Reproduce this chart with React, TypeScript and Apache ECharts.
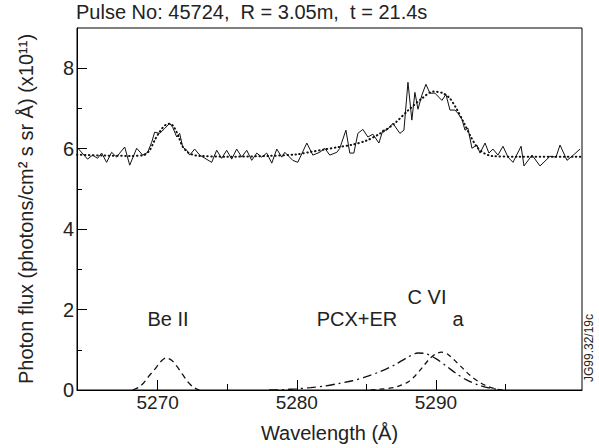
import React, { useEffect, useRef } from "react";
import * as echarts from "echarts";

const titleText = "Pulse No: 45724,  R = 3.05m,  t = 21.4s";
const xName = "Wavelength (Å)";
const yName = "Photon flux (photons/cm² s sr Å) (x10¹¹)";
const sideNote = "JG99.32/19c";

const xMajorTicks = [5270, 5280, 5290];
const xMinorTicks = [5275, 5285, 5295];
const yMajorTicks = [0, 2, 4, 6, 8];
const yMinorTicks = [1, 3, 5, 7];

// measured spectrum (solid)
const measuredWl = [
  5264.24, 5264.96, 5265.32, 5265.68, 5265.97, 5266.33, 5266.69, 5267.05, 5267.27, 5267.63,
  5267.99, 5268.49, 5268.92, 5269.28, 5269.57, 5269.78, 5270.14, 5270.5, 5270.86, 5271.08,
  5271.37, 5271.58, 5271.8, 5272.09, 5272.3, 5272.66, 5273.02, 5273.88, 5274.24, 5274.6,
  5274.96, 5275.32, 5275.68, 5276.04, 5276.4, 5276.76, 5277.12, 5277.48, 5277.84, 5278.2,
  5278.56, 5278.92, 5279.14, 5279.71, 5280.07, 5280.72, 5281.15, 5281.65, 5282.01, 5282.37,
  5282.88, 5283.09, 5283.53, 5283.81, 5284.1, 5284.39, 5284.75, 5285.11, 5285.47, 5285.9,
  5286.19, 5286.47, 5286.91, 5287.41, 5287.7, 5287.99, 5288.27, 5288.49, 5288.71, 5288.99,
  5289.28, 5289.57, 5289.93, 5290.43, 5290.72, 5291.01, 5291.37, 5291.58, 5291.87, 5292.09,
  5292.3, 5292.59, 5292.95, 5293.17, 5293.53, 5293.81, 5294.1, 5294.46, 5294.82, 5295.18,
  5295.54, 5296.12, 5296.33, 5296.91, 5297.48, 5298.2, 5298.63, 5298.92, 5299.42, 5299.78,
  5300.36,
];
const measuredFlux = [
  6.02, 5.74, 5.84, 5.76, 5.89, 5.66, 5.91, 5.79, 5.89, 6.04,
  5.59, 6.01, 5.84, 5.91, 6.16, 6.41, 6.38, 6.5, 6.63, 6.53,
  6.29, 6.38, 6.04, 5.96, 5.84, 5.99, 5.84, 5.66, 5.96, 5.76,
  5.96, 5.74, 5.99, 5.79, 5.96, 5.71, 5.89, 5.79, 5.89, 5.64,
  5.99, 5.79, 5.91, 5.71, 5.66, 6.14, 5.84, 5.91, 6.01, 5.84,
  5.91, 6.01, 6.46, 5.89, 5.89, 6.38, 6.48, 6.29, 6.36, 6.14,
  6.46, 6.46, 6.63, 6.38, 6.46, 7.65, 6.71, 7.4, 6.98, 7.33,
  7.6, 7.38, 7.38, 7.2, 7.35, 6.96, 6.96, 6.88, 6.73, 6.46,
  6.51, 6.01, 6.09, 5.89, 6.14, 5.89, 5.99, 5.84, 6.06, 5.79,
  5.66, 6.06, 5.57, 5.84, 5.57, 5.81, 5.79, 6.09, 5.71, 5.81,
  5.99,
];

// fitted spectrum (dotted)
const fitWl = [
  5264.2, 5266, 5268, 5269, 5269.4, 5269.8, 5270.2, 5270.6, 5270.9, 5271.2,
  5271.5, 5271.8, 5272.2, 5272.6, 5273, 5275, 5278, 5280, 5281, 5282,
  5283, 5284, 5285, 5286, 5287, 5288, 5289, 5289.8, 5290.5, 5291,
  5291.5, 5292, 5292.5, 5293, 5293.5, 5294, 5296, 5300.5,
];
const fitFlux = [
  5.85, 5.83, 5.82, 5.84, 5.95, 6.22, 6.45, 6.6, 6.62, 6.52,
  6.3, 6.05, 5.9, 5.84, 5.82, 5.8, 5.82, 5.86, 5.92, 5.98,
  6.04, 6.1, 6.2, 6.38, 6.62, 6.95, 7.25, 7.42, 7.38, 7.25,
  6.98, 6.65, 6.3, 6.02, 5.88, 5.82, 5.8, 5.8,
];

// Be II component (dashed)
const beWl = [5268.2, 5268.6, 5269.0, 5269.4, 5269.8, 5270.2, 5270.6, 5271.0, 5271.4, 5271.8, 5272.2, 5272.6, 5273.0];
const beVal = [0, 0.06, 0.18, 0.36, 0.52, 0.7, 0.8, 0.74, 0.58, 0.38, 0.19, 0.06, 0];

// PCX+ER component (dash-dot)
const pcxWl = [5278.0, 5279, 5280, 5281, 5282, 5283, 5284, 5285, 5286, 5287, 5288, 5288.7, 5289.3, 5290, 5290.8, 5291.5, 5292.2, 5293, 5293.8, 5294.6];
const pcxVal = [0, 0.01, 0.03, 0.06, 0.1, 0.16, 0.23, 0.33, 0.46, 0.62, 0.82, 0.92, 0.9, 0.78, 0.58, 0.4, 0.25, 0.13, 0.05, 0.01];

// C VI "a" component (dashed)
const aWl = [5285.3, 5286, 5287, 5287.5, 5288, 5288.5, 5289, 5289.5, 5290, 5290.4, 5290.8, 5291.3, 5291.9, 5292.5, 5293.2, 5293.8, 5294.4, 5294.8];
const aVal = [0, 0.02, 0.06, 0.12, 0.2, 0.35, 0.55, 0.76, 0.9, 0.94, 0.9, 0.75, 0.55, 0.35, 0.18, 0.08, 0.02, 0];

const labels = [
  { text: "Be II", x: 168, y: 329 },
  { text: "PCX+ER", x: 357, y: 329 },
  { text: "C VI", x: 427, y: 307 },
  { text: "a", x: 458, y: 329 },
];

const zip = (xs: number[], ys: number[]) => xs.map((x, i) => [x, ys[i]]);

const FONT = "Liberation Sans, Arial, Helvetica, sans-serif";
const TXT = "#222";

export default function App() {
  const ref = useRef<HTMLDivElement>(null);
  useEffect(() => {
    if (!ref.current) return;
    const chart = echarts.init(ref.current, null, { renderer: "svg" });
    const xCommon = {
      type: "value" as const,
      min: 5264.2,
      max: 5300.5,
      splitLine: { show: false },
    };
    const yCommon = {
      type: "value" as const,
      min: 0,
      max: 9,
      splitLine: { show: false },
    };
    chart.setOption({
      animation: false,
      backgroundColor: "#fff",
      textStyle: { fontFamily: FONT },
      grid: {
        left: 77,
        right: 17,
        top: 28,
        bottom: 58,
        show: true,
        borderColor: "#000",
        borderWidth: 1,
        containLabel: false,
      },
      title: {
        text: titleText,
        left: 76,
        top: 2,
        padding: 0,
        textStyle: { fontFamily: FONT, fontSize: 20, fontWeight: "normal", color: TXT },
      },
      xAxis: [
        {
          ...xCommon,
          position: "bottom",
          name: xName,
          nameLocation: "middle",
          nameGap: 33,
          nameTextStyle: { fontFamily: FONT, fontSize: 20, color: TXT },
          axisLine: { show: true, lineStyle: { color: "#000", width: 1 } },
          axisTick: { show: true, inside: true, length: 10, customValues: xMajorTicks, lineStyle: { color: "#000" } },
          axisLabel: {
            show: true,
            customValues: xMajorTicks,
            margin: 3,
            fontSize: 19,
            color: TXT,
            fontFamily: FONT,
            formatter: (v: number) => String(v),
          },
        },
        {
          ...xCommon,
          position: "bottom",
          axisLine: { show: false },
          axisTick: { show: true, inside: true, length: 6, customValues: xMinorTicks, lineStyle: { color: "#000" } },
          axisLabel: { show: false },
        },
      ],
      yAxis: [
        {
          ...yCommon,
          position: "left",
          name: yName,
          nameLocation: "middle",
          nameGap: 41,
          nameRotate: 90,
          nameTextStyle: { fontFamily: FONT, fontSize: 20, color: TXT },
          axisLine: { show: true, lineStyle: { color: "#000", width: 1 } },
          axisTick: { show: true, inside: true, length: 10, customValues: yMajorTicks, lineStyle: { color: "#000" } },
          axisLabel: {
            show: true,
            customValues: yMajorTicks,
            margin: 3,
            fontSize: 20,
            color: TXT,
            fontFamily: FONT,
            formatter: (v: number) => String(v),
          },
        },
        {
          ...yCommon,
          position: "left",
          axisLine: { show: false },
          axisTick: { show: true, inside: true, length: 5, customValues: yMinorTicks, lineStyle: { color: "#000" } },
          axisLabel: { show: false },
        },
      ],
      series: [
        {
          type: "line",
          data: zip(measuredWl, measuredFlux),
          symbol: "none",
          lineStyle: { color: "#111", width: 1 },
          z: 3,
        },
        {
          type: "line",
          data: zip(fitWl, fitFlux),
          symbol: "none",
          smooth: 0.3,
          lineStyle: { color: "#111", width: 2, type: [0.5, 3.5], cap: "round" },
          z: 2,
        },
        {
          type: "line",
          data: zip(beWl, beVal),
          symbol: "none",
          smooth: 0.3,
          lineStyle: { color: "#111", width: 1.3, type: [6, 4] },
        },
        {
          type: "line",
          data: zip(pcxWl, pcxVal),
          symbol: "none",
          smooth: 0.3,
          lineStyle: { color: "#111", width: 1.3, type: [9, 4, 2, 4] },
        },
        {
          type: "line",
          data: zip(aWl, aVal),
          symbol: "none",
          smooth: 0.3,
          lineStyle: { color: "#111", width: 1.3, type: [5, 4] },
        },
      ],
      graphic: [
        ...labels.map((l) => ({
          type: "text",
          x: l.x,
          y: l.y,
          style: {
            text: l.text,
            fontFamily: FONT,
            fontSize: 20,
            fill: TXT,
            align: "center",
            verticalAlign: "bottom",
          },
        })),
        {
          type: "text",
          x: 589,
          y: 348,
          rotation: Math.PI / 2,
          style: {
            text: sideNote,
            fontFamily: FONT,
            fontSize: 12,
            fill: TXT,
            align: "center",
            verticalAlign: "middle",
          },
        },
      ],
    });
    return () => chart.dispose();
  }, []);
  return (
    <div
      ref={ref}
      style={{ position: "absolute", left: 0, top: 0, width: 599, height: 448 }}
    />
  );
}
